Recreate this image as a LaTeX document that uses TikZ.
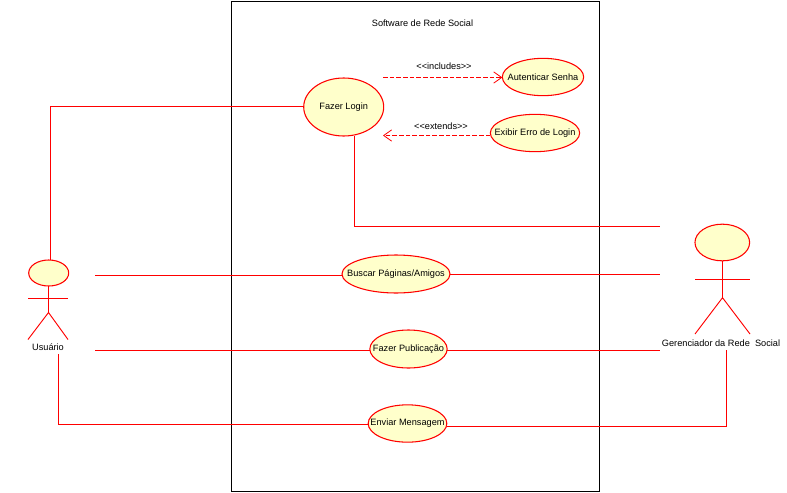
\documentclass[tikz,border=0pt]{standalone}
\usepackage{fontspec}
\setmainfont{Liberation Sans}
\usetikzlibrary{shapes.geometric,arrows.meta}
\definecolor{umlfill}{HTML}{FFFFCB}
\tikzset{
  wire/.style={draw=red,line width=0.7pt},
  dep/.style={wire,dashed,dash pattern=on 3.4pt off 1.6pt,-{Straight Barb[red,length=6pt,width=8.5pt,line width=0.6pt]}},
  usecase/.style={ellipse,draw=red,fill=umlfill,line width=0.8pt,inner sep=0pt,outer sep=0pt},
  lbl/.style={font=\fontsize{6.9pt}{8pt}\selectfont,inner sep=0pt,text=black},
}
\begin{document}
\begin{tikzpicture}[x=0.75pt,y=-0.75pt]
\useasboundingbox (0,0) rectangle (787,492);
\node[draw=black,line width=0.7pt,minimum width=276pt,minimum height=367.5pt,inner sep=0pt,outer sep=0pt] (system) at (415,246) {};
\node[lbl] (title) at (422.5,23.5) {Software de Rede Social};
% coordinates for free ends
\coordinate (c1) at (50.5,106.5);
\coordinate (c1b) at (50.5,260);
\coordinate (c2) at (354.5,135.5);
\coordinate (c3) at (354.5,226.5);
\coordinate (c4) at (660,226.5);
\coordinate (u1) at (95,275.5);
\coordinate (g1) at (660,274.5);
\coordinate (u2) at (95,350.5);
\coordinate (g2) at (660,350.5);
\coordinate (u3) at (58.5,354);
\coordinate (u3b) at (58.5,424.5);
\coordinate (g3) at (726.5,350);
\coordinate (g3b) at (726.5,426.5);
\coordinate (inc) at (383,77.5);
\coordinate (ext) at (383,135.5);
% connectors
\draw[wire] (c1b) -- (c1) -- (304,106.5);
\draw[wire] (c2) -- (c3) -- (c4);
\draw[wire] (u1) -- (342,275.5);
\draw[wire] (450,274.5) -- (g1);
\draw[wire] (u2) -- (370,350.5);
\draw[wire] (447,350.5) -- (g2);
\draw[wire] (u3) -- (u3b) -- (368,424.5);
\draw[wire] (447,426.5) -- (g3b) -- (g3);
% use cases
\node[usecase,minimum width=60pt,minimum height=43.5pt,label={[lbl]center:Fazer Login}] (login) at (343.7,107) {};
\node[usecase,minimum width=61pt,minimum height=28pt,label={[lbl]center:Autenticar Senha}] (auth) at (543,77) {};
\node[usecase,minimum width=67pt,minimum height=28pt,label={[lbl]center:Exibir Erro de Login}] (erro) at (535,133) {};
\node[usecase,minimum width=81pt,minimum height=28.5pt,label={[lbl]center:Buscar Páginas/Amigos}] (buscar) at (396,274) {};
\node[usecase,minimum width=58pt,minimum height=28.5pt,label={[lbl]center:Fazer Publicação}] (pub) at (408.5,349) {};
\node[usecase,minimum width=59pt,minimum height=28pt,label={[lbl]center:Enviar Mensagem}] (msg) at (407.5,423.5) {};
% dependencies
\begin{scope}[red]
\draw[dep] (inc) -- (auth.west |- inc);
\draw[dep] (erro.west |- ext) -- (ext);
\end{scope}
\node[lbl] (inclbl) at (444,66) {<{}<includes>{}>};
\node[lbl] (extlbl) at (441,126.5) {<{}<extends>{}>};
% actor: Usuario
\node[usecase,minimum width=30pt,minimum height=19.5pt] (uhead) at (48.7,273) {};
\coordinate (uhip) at (48.5,312.5);
\coordinate (uarmL) at (28,298.5);
\coordinate (uarmR) at (68,298.5);
\coordinate (ulegL) at (28,339.5);
\coordinate (ulegR) at (68,339.5);
\draw[wire] (uhead.south -| uhip) -- (uhip);
\draw[wire] (uarmL) -- (uarmR);
\draw[wire] (ulegL) -- (uhip) -- (ulegR);
\node[lbl] (ulbl) at (48,347.5) {Usuário};
% actor: Gerenciador
\node[usecase,minimum width=41pt,minimum height=27.5pt] (ghead) at (722.3,242.5) {};
\coordinate (ghip) at (722.5,297.7);
\coordinate (garmL) at (695,279.5);
\coordinate (garmR) at (750,279.5);
\coordinate (glegL) at (695,334);
\coordinate (glegR) at (750,334);
\draw[wire] (ghead.south -| ghip) -- (ghip);
\draw[wire] (garmL) -- (garmR);
\draw[wire] (glegL) -- (ghip) -- (glegR);
\node[lbl] (glbl) at (721,343.5) {Gerenciador da Rede\ \ Social};
\end{tikzpicture}
\end{document}
